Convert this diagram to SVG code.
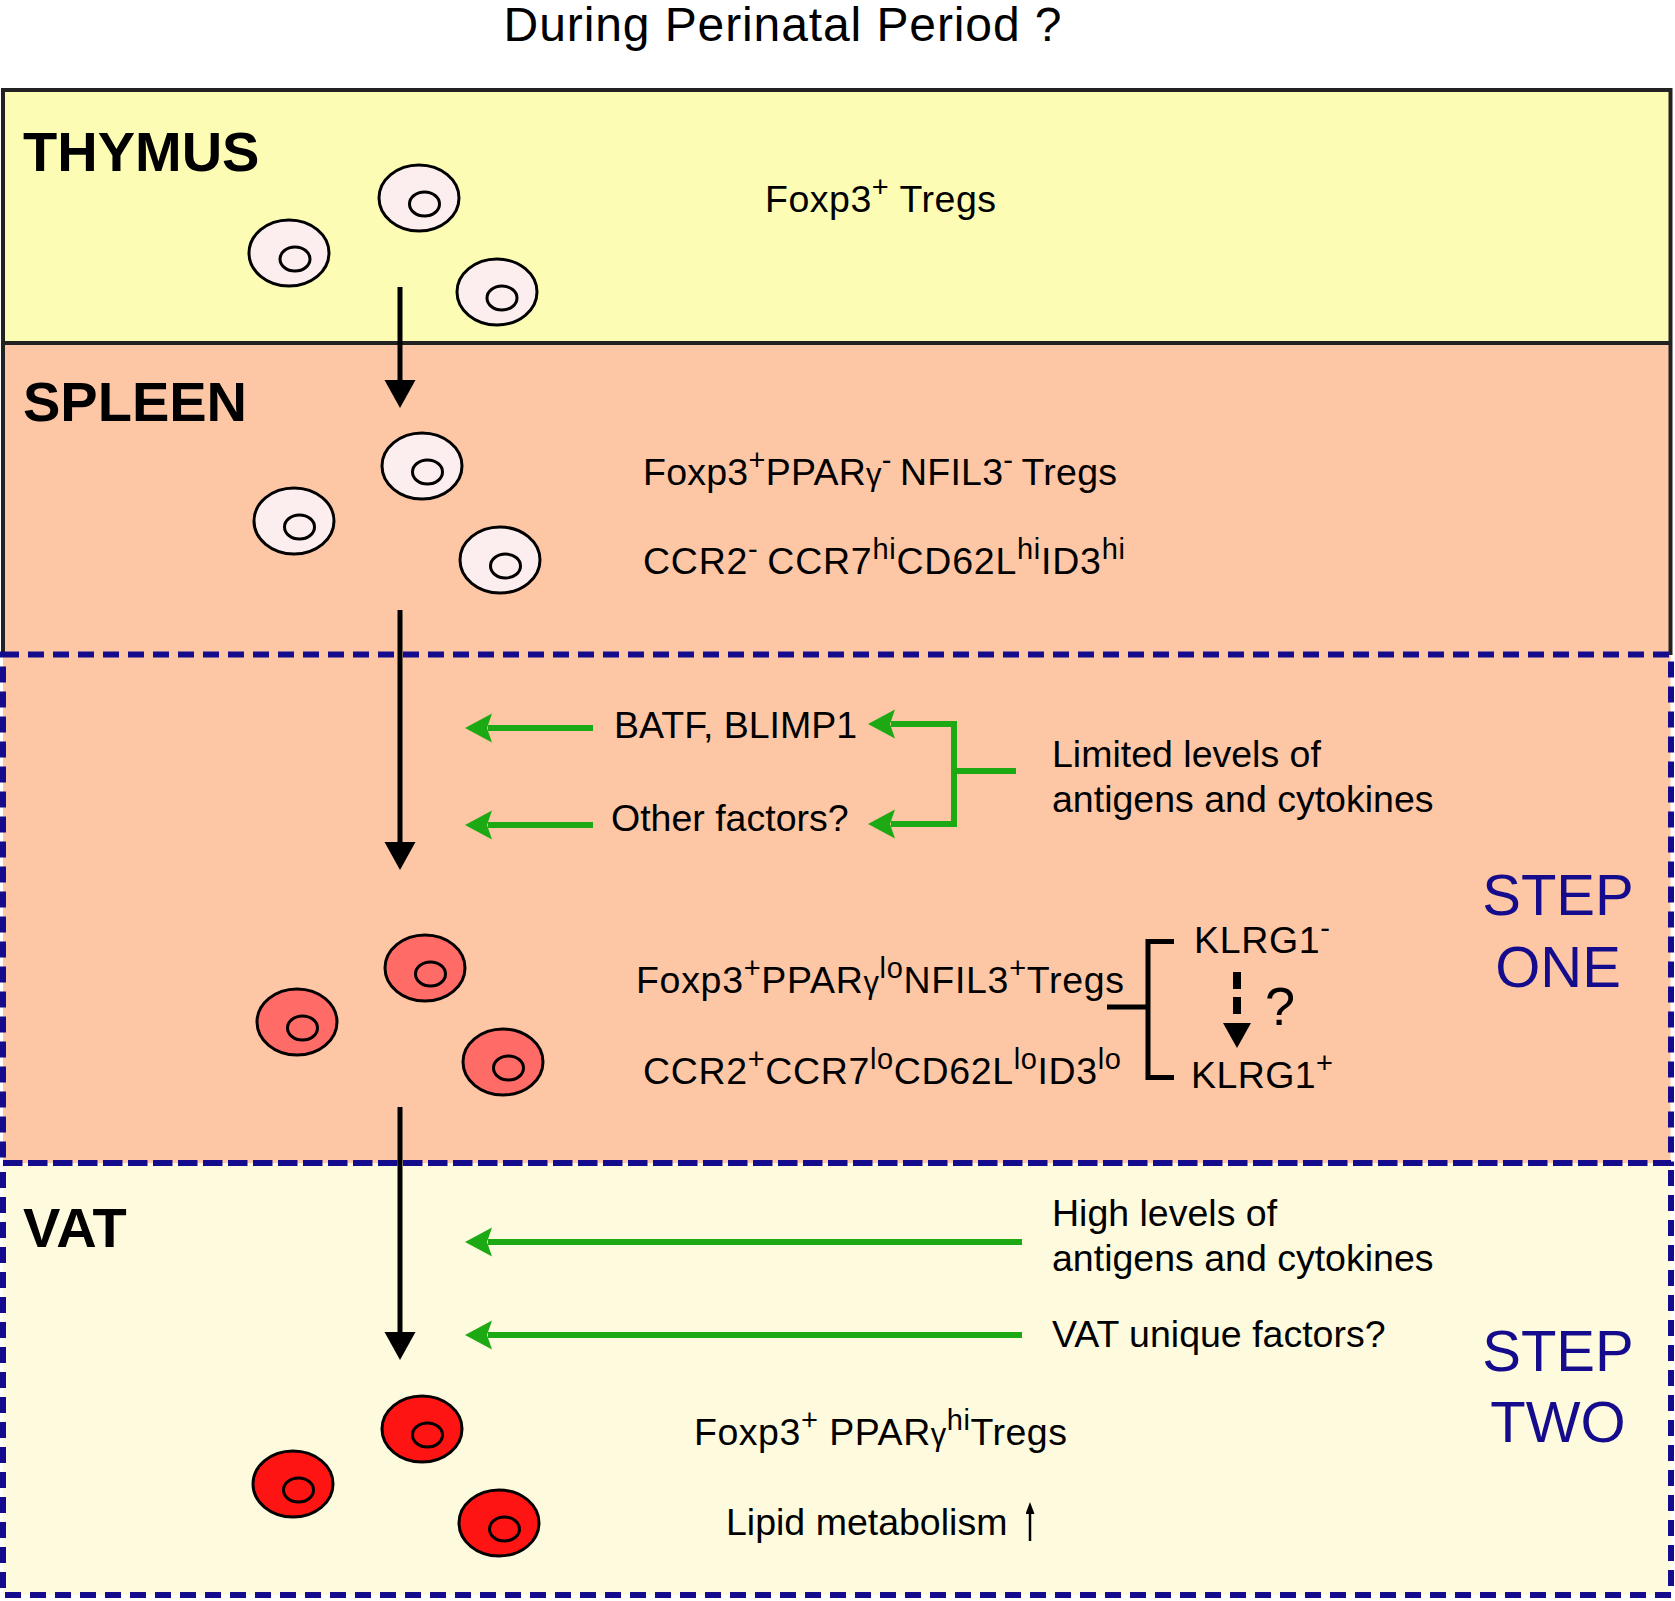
<svg xmlns="http://www.w3.org/2000/svg" width="1675" height="1601" viewBox="0 0 1675 1601">
<style>
text{font-family:"Liberation Sans",Arial,Helvetica,sans-serif;fill:#000}
.title{font-size:48px;letter-spacing:0.9px}
.organ{font-size:56px;font-weight:bold}
.t{font-size:37.5px}
.s{font-size:29px}
.g{font-size:31px}
.step{font-size:58px;fill:#140C8C;text-anchor:middle}
.cellW{fill:#FCEEEE;stroke:#000;stroke-width:3}
.cellP{fill:#FF6B66;stroke:#000;stroke-width:3}
.cellR{fill:#FF1414;stroke:#000;stroke-width:3}
.blk{stroke:#000;stroke-width:5;fill:none}
.grn{stroke:#1DA914;stroke-width:6;fill:none}
.dash{fill:none;stroke:#140C8C;stroke-width:6;stroke-dasharray:16 9}
</style>
<defs>
<marker id="ah" markerUnits="userSpaceOnUse" markerWidth="28" markerHeight="32" refX="0" refY="15.5" orient="auto">
<path d="M0,0 L28,15.5 L0,31 z" fill="#000"/>
</marker>
<marker id="gh" markerUnits="userSpaceOnUse" markerWidth="28" markerHeight="30" refX="4" refY="14.5" orient="auto-start-reverse">
<path d="M27,14.5 L0,0 L5,14.5 L0,29 z" fill="#1DA914"/>
</marker>
<marker id="sh" markerUnits="userSpaceOnUse" markerWidth="12" markerHeight="10" refX="1" refY="4.5" orient="auto">
<path d="M0,0 L12,4.5 L0,9 z" fill="#000"/>
</marker>
</defs>

<rect width="1675" height="1601" fill="#FFFFFF"/>
<text class="title" x="783" y="41" text-anchor="middle">During Perinatal Period ?</text>

<g id="regions">
<rect x="3" y="90" width="1667.5" height="253" fill="#FCFCB4"/>
<rect x="3" y="343" width="1667.5" height="820" fill="#FDC6A5"/>
<rect x="3" y="1163" width="1667.5" height="432" fill="#FEFADD"/>
<path d="M3,655 V90 H1670.5 V655" fill="none" stroke="#222" stroke-width="4"/>
<line x1="3" y1="343" x2="1670.5" y2="343" stroke="#222" stroke-width="4"/>
<rect class="dash" x="3" y="654.5" width="1668" height="508.5"/>
<rect class="dash" x="3" y="1163" width="1668" height="432"/>
</g>

<g id="thymus">
<text class="organ" x="23" y="171">THYMUS</text>
<ellipse class="cellW" cx="419" cy="198" rx="40" ry="33"/>
<ellipse class="cellW" cx="424.5" cy="204" rx="15" ry="12"/>
<ellipse class="cellW" cx="289" cy="253" rx="40" ry="33"/>
<ellipse class="cellW" cx="295" cy="259" rx="15" ry="12"/>
<ellipse class="cellW" cx="497" cy="292" rx="40" ry="33"/>
<ellipse class="cellW" cx="502" cy="298" rx="15" ry="12"/>
<text class="t" x="765" y="212" textLength="231" lengthAdjust="spacing">Foxp3<tspan class="s" dy="-15">+</tspan><tspan dy="15"> Tregs</tspan></text>
</g>

<g id="spleen">
<text class="organ" x="23" y="421">SPLEEN</text>
<ellipse class="cellW" cx="422" cy="466" rx="40" ry="33"/>
<ellipse class="cellW" cx="427.5" cy="472" rx="15" ry="12"/>
<ellipse class="cellW" cx="294" cy="521" rx="40" ry="33"/>
<ellipse class="cellW" cx="299.5" cy="527" rx="15" ry="12"/>
<ellipse class="cellW" cx="500" cy="560" rx="40" ry="33"/>
<ellipse class="cellW" cx="505.5" cy="566" rx="15" ry="12"/>
<text class="t" x="643" y="485" textLength="474" lengthAdjust="spacing">Foxp3<tspan class="s" dy="-15">+</tspan><tspan dy="15">PPAR</tspan><tspan class="g">γ</tspan><tspan class="s" dy="-15">- </tspan><tspan dy="15">NFIL3</tspan><tspan class="s" dy="-15">- </tspan><tspan dy="15">Tregs</tspan></text>
<text class="t" x="643" y="574" textLength="482" lengthAdjust="spacing">CCR2<tspan class="s" dy="-15">- </tspan><tspan dy="15">CCR7</tspan><tspan class="s" dy="-15">hi</tspan><tspan dy="15">CD62L</tspan><tspan class="s" dy="-15">hi</tspan><tspan dy="15">ID3</tspan><tspan class="s" dy="-15">hi</tspan></text>
</g>

<g id="step-one">
<text class="t" x="614" y="738">BATF, BLIMP1</text>
<text class="t" x="611" y="831">Other factors?</text>
<text class="t" x="1052" y="767">Limited levels of</text>
<text class="t" x="1052" y="812">antigens and cytokines</text>
<ellipse class="cellP" cx="425" cy="968" rx="40" ry="33"/>
<ellipse class="cellP" cx="430.5" cy="974" rx="15" ry="12"/>
<ellipse class="cellP" cx="297" cy="1022" rx="40" ry="33"/>
<ellipse class="cellP" cx="302.5" cy="1028" rx="15" ry="12"/>
<ellipse class="cellP" cx="503" cy="1062" rx="40" ry="33"/>
<ellipse class="cellP" cx="508.5" cy="1068" rx="15" ry="12"/>
<text class="t" x="636" y="993" textLength="488" lengthAdjust="spacing">Foxp3<tspan class="s" dy="-15">+</tspan><tspan dy="15">PPAR</tspan><tspan class="g">γ</tspan><tspan class="s" dy="-15">lo</tspan><tspan dy="15">NFIL3</tspan><tspan class="s" dy="-15">+</tspan><tspan dy="15">Tregs</tspan></text>
<text class="t" x="643" y="1084" textLength="478" lengthAdjust="spacing">CCR2<tspan class="s" dy="-15">+</tspan><tspan dy="15">CCR7</tspan><tspan class="s" dy="-15">lo</tspan><tspan dy="15">CD62L</tspan><tspan class="s" dy="-15">lo</tspan><tspan dy="15">ID3</tspan><tspan class="s" dy="-15">lo</tspan></text>
<text class="t" x="1194" y="953" textLength="136" lengthAdjust="spacing">KLRG1<tspan class="s" dy="-15">-</tspan></text>
<text class="t" x="1191" y="1088" textLength="142" lengthAdjust="spacing">KLRG1<tspan class="s" dy="-15">+</tspan></text>
<text x="1265" y="1025" style="font-size:54px">?</text>
<text class="step" x="1558" y="915">STEP</text>
<text class="step" x="1558" y="987">ONE</text>
</g>

<g id="vat">
<text class="organ" x="23" y="1247">VAT</text>
<text class="t" x="1052" y="1226">High levels of</text>
<text class="t" x="1052" y="1271">antigens and cytokines</text>
<text class="t" x="1052" y="1347">VAT unique factors?</text>
<ellipse class="cellR" cx="422" cy="1429" rx="40" ry="33"/>
<ellipse class="cellR" cx="427.5" cy="1435" rx="15" ry="12"/>
<ellipse class="cellR" cx="293" cy="1484" rx="40" ry="33"/>
<ellipse class="cellR" cx="298.5" cy="1490" rx="15" ry="12"/>
<ellipse class="cellR" cx="499" cy="1523" rx="40" ry="33"/>
<ellipse class="cellR" cx="504.5" cy="1529" rx="15" ry="12"/>
<text class="t" x="694" y="1445" textLength="373" lengthAdjust="spacing">Foxp3<tspan class="s" dy="-15">+</tspan><tspan dy="15"> PPAR</tspan><tspan class="g">γ</tspan><tspan class="s" dy="-15">hi</tspan><tspan dy="15">Tregs</tspan></text>
<text class="t" x="726" y="1535">Lipid metabolism</text>
<text class="step" x="1558" y="1371">STEP</text>
<text class="step" x="1558" y="1442">TWO</text>
</g>

<g id="connectors">
<line class="blk" x1="400" y1="287" x2="400" y2="380" marker-end="url(#ah)"/>
<line class="blk" x1="400" y1="610" x2="400" y2="842" marker-end="url(#ah)"/>
<line class="blk" x1="400" y1="1107" x2="400" y2="1332" marker-end="url(#ah)"/>
<line class="grn" x1="593" y1="728" x2="488" y2="728" marker-end="url(#gh)"/>
<line class="grn" x1="593" y1="825" x2="488" y2="825" marker-end="url(#gh)"/>
<line class="grn" x1="957" y1="724" x2="891" y2="724" marker-end="url(#gh)"/>
<line class="grn" x1="957" y1="824" x2="891" y2="824" marker-end="url(#gh)"/>
<line class="grn" x1="954" y1="721" x2="954" y2="827"/>
<line class="grn" x1="954" y1="771" x2="1016" y2="771"/>
<line class="grn" x1="1022" y1="1242" x2="488" y2="1242" marker-end="url(#gh)"/>
<line class="grn" x1="1022" y1="1335" x2="488" y2="1335" marker-end="url(#gh)"/>
<path class="blk" d="M1174,941.5 H1148 V1077.5 H1174 M1107,1007 H1148"/>
<line x1="1237" y1="972" x2="1237" y2="1015" stroke="#000" stroke-width="8" stroke-dasharray="17 8"/>
<path d="M1223,1023 H1251 L1237,1048 z" fill="#000"/>
<line x1="1030" y1="1541" x2="1030" y2="1513" stroke="#000" stroke-width="2.5" marker-end="url(#sh)"/>
</g>
</svg>
